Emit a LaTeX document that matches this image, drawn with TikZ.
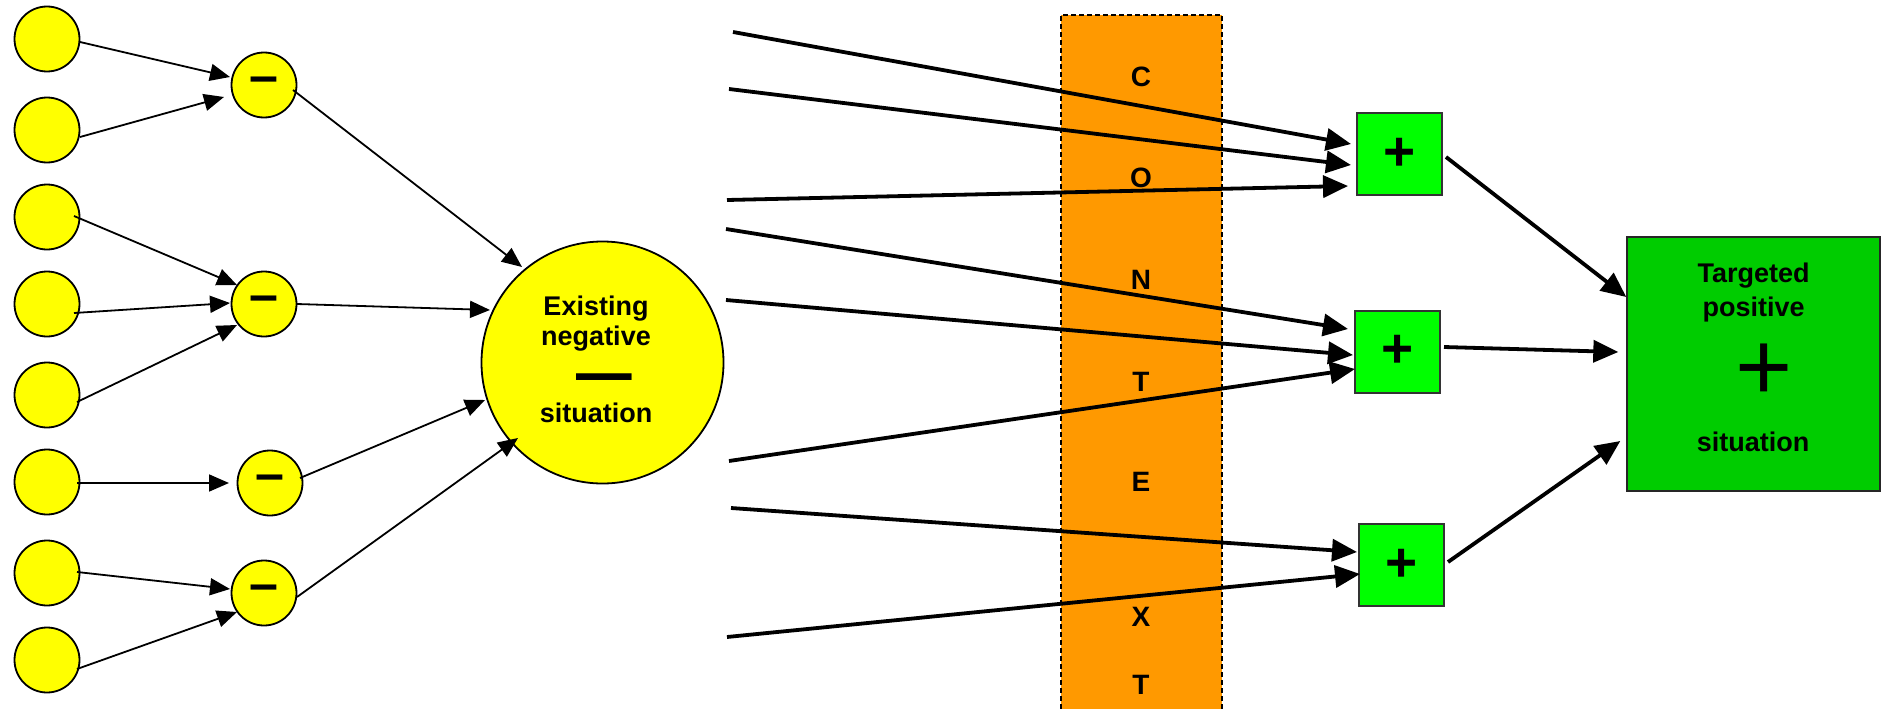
\documentclass[tikz,border=0pt]{standalone}
\usepackage{fontspec}
\setmainfont{Liberation Sans}
\usetikzlibrary{arrows.meta}
\definecolor{dotyellow}{HTML}{FFFF00}
\definecolor{ctxorange}{HTML}{FF9900}
\definecolor{stepgreen}{HTML}{00FF00}
\definecolor{goalgreen}{HTML}{00CC00}
\newcommand{\negsign}{\raisebox{-3pt}{–}}
\begin{document}
\begin{tikzpicture}[x=1pt,y=-1pt,
  srcdot/.style={circle, draw=black, line width=1.8pt, fill=dotyellow, minimum size=65pt, inner sep=0pt},
  negdot/.style={srcdot, font=\fontsize{52}{52}\bfseries\selectfont},
  bigdot/.style={circle, draw=black, line width=1.8pt, fill=dotyellow, minimum size=242pt, inner sep=0pt},
  stepbox/.style={rectangle, draw=black!80, line width=1.6pt, fill=stepgreen, minimum width=85pt, minimum height=82pt, inner sep=0pt, font=\fontsize{55}{55}\bfseries\selectfont},
  goalbox/.style={rectangle, draw=black!85, line width=1.8pt, fill=goalgreen, minimum width=253pt, minimum height=254pt, inner sep=0pt},
  lbl/.style={anchor=base, inner sep=0pt, font=\fontsize{27}{30}\bfseries\selectfont},
  ctxletter/.style={inner sep=0pt, font=\fontsize{28}{30}\bfseries\selectfont},
  thinarrow/.style={line width=1.8pt, -{Triangle[length=20pt,width=17pt]}},
  thickarrow/.style={line width=3.8pt, -{Triangle[length=25pt,width=22pt]}}
]
\useasboundingbox (0,0) rectangle (1881,709);

% context band
\fill[ctxorange] (1061,15) rectangle (1222,709);
\draw[line width=1.5pt, dash pattern=on 5pt off 3pt] (1061,709) -- (1061,15) -- (1222,15) -- (1222,709);
\node[ctxletter] (k1) at (1141,77) {C};
\node[ctxletter] (k2) at (1141,178) {O};
\node[ctxletter] (k3) at (1141,280) {N};
\node[ctxletter] (k4) at (1141,382) {T};
\node[ctxletter] (k5) at (1141,482) {E};
\node[ctxletter] (k6) at (1141,617) {X};
\node[ctxletter] (k7) at (1141,685) {T};

% contributing factors
\node[srcdot] (c1) at (47,39) {};
\node[srcdot] (c2) at (47,130) {};
\node[srcdot] (c3) at (47,217) {};
\node[srcdot] (c4) at (47,304) {};
\node[srcdot] (c5) at (47,395) {};
\node[srcdot] (c6) at (47,482) {};
\node[srcdot] (c7) at (47,573) {};
\node[srcdot] (c8) at (47,660) {};

% negative sub-causes
\node[negdot] (m1) at (264,85) {\negsign};
\node[negdot] (m2) at (264,304) {\negsign};
\node[negdot] (m3) at (270,483) {\negsign};
\node[negdot] (m4) at (264,593) {\negsign};

% existing situation
\node[bigdot] (B) at (602.5,362.5) {};
\node[lbl] (B1) at (596,315) {Existing};
\node[lbl] (B2) at (596,345) {negative};
\node[anchor=base, inner sep=0pt, font=\fontsize{100}{100}\selectfont] (B3) at (604,402.6) {–};
\node[lbl] (B4) at (596,422.7) {situation};

% interventions
\node[stepbox] (b1) at (1399.5,154) {+};
\node[stepbox] (b2) at (1397.5,351.7) {+};
\node[stepbox] (b3) at (1401.5,565) {+};

% targeted situation
\node[goalbox] (G) at (1753.3,363.7) {};
\node[lbl] (G1) at (1753.5,282.7) {Targeted};
\node[lbl] (G2) at (1753.5,316.7) {positive};
\node[anchor=base, inner sep=0pt, font=\fontsize{98}{98}\selectfont] (G3) at (1763.7,400.7) {+};
\node[lbl] (G4) at (1753,451.7) {situation};

% factors into sub-causes
\draw[thinarrow] ([shift={(33,3)}]c1.center) -- ([shift={(-34,-8)}]m1.center);
\draw[thinarrow] ([shift={(33,7)}]c2.center) -- ([shift={(-40,12)}]m1.center);
\draw[thinarrow] ([shift={(27,-1)}]c3.center) -- ([shift={(-27,-19)}]m2.center);
\draw[thinarrow] ([shift={(27,9)}]c4.center) -- ([shift={(-34,-1)}]m2.center);
\draw[thinarrow] ([shift={(30,7)}]c5.center) -- ([shift={(-27,21)}]m2.center);
\draw[thinarrow] ([shift={(30,1)}]c6.center) -- ([shift={(-41,0)}]m3.center);
\draw[thinarrow] ([shift={(30,-1)}]c7.center) -- ([shift={(-34,-4)}]m4.center);
\draw[thinarrow] ([shift={(30,9)}]c8.center) -- ([shift={(-27,19)}]m4.center);

% sub-causes into the existing situation
\draw[thinarrow] ([shift={(29,5)}]m1.center) -- ([shift={(-80.5,-95.5)}]B.center);
\draw[thinarrow] ([shift={(33,0)}]m2.center) -- ([shift={(-112.5,-52.5)}]B.center);
\draw[thinarrow] ([shift={(30,-5)}]m3.center) -- ([shift={(-117.5,37.5)}]B.center);
\draw[thinarrow] ([shift={(33,4)}]m4.center) -- ([shift={(-84.5,75.5)}]B.center);

% loose inputs crossing the context band
\coordinate (s1) at (733,32);
\coordinate (s2) at (729,89);
\coordinate (s3) at (727,200);
\coordinate (s4) at (726,229);
\coordinate (s5) at (726,300);
\coordinate (s6) at (729,461);
\coordinate (s7) at (731,508);
\coordinate (s8) at (727,637);
\draw[thickarrow] (s1) -- ([shift={(-48.5,-10)}]b1.center);
\draw[thickarrow] (s2) -- ([shift={(-48.5,11)}]b1.center);
\draw[thickarrow] (s3) -- ([shift={(-51.5,32)}]b1.center);
\draw[thickarrow] (s4) -- ([shift={(-49.5,-22.7)}]b2.center);
\draw[thickarrow] (s5) -- ([shift={(-44.5,3.3)}]b2.center);
\draw[thickarrow] (s6) -- ([shift={(-42.5,17.3)}]b2.center);
\draw[thickarrow] (s7) -- ([shift={(-44.5,-13)}]b3.center);
\draw[thickarrow] (s8) -- ([shift={(-41.5,9)}]b3.center);

% interventions into the targeted situation
\draw[thickarrow] ([shift={(46.5,3)}]b1.center) -- ([shift={(-127,-66.7)}]G.center);
\draw[thickarrow] ([shift={(46.5,-4.7)}]b2.center) -- ([shift={(-135,-11.7)}]G.center);
\draw[thickarrow] ([shift={(46.5,-3)}]b3.center) -- ([shift={(-133,77.3)}]G.center);
\end{tikzpicture}
\end{document}
